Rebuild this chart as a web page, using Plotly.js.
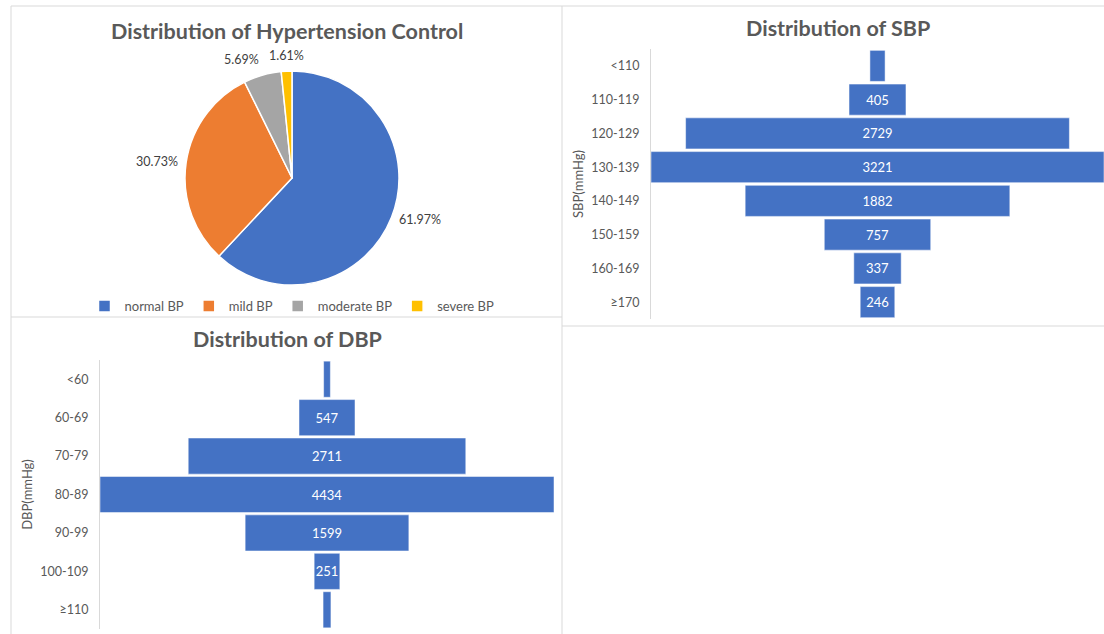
<!DOCTYPE html>
<html>
<head>
<meta charset="utf-8">
<script src="https://cdn.plot.ly/plotly-3.0.1.min.js"></script>
<style>html,body{margin:0;padding:0;background:#fff;}#chart{width:1104px;height:634px;}</style>
</head>
<body>
<div id="chart"></div>
<script>
// Hypertension control (percent)
const controlLabels = ["normal BP", "mild BP", "moderate BP", "severe BP"];
const controlPercent = [61.97, 30.73, 5.69, 1.61];
const controlColors = ["#4472C4", "#ED7D31", "#A5A5A5", "#FFC000"];

// SBP distribution
const sbpCategories = ["<110", "110-119", "120-129", "130-139", "140-149", "150-159", "160-169", "≥170"];
const sbpCounts = [108, 405, 2729, 3221, 1882, 757, 337, 246];
const sbpShowLabel = [false, true, true, true, true, true, true, true];

// DBP distribution
const dbpCategories = ["<60", "60-69", "70-79", "80-89", "90-99", "100-109", "≥110"];
const dbpCounts = [66, 547, 2711, 4434, 1599, 251, 77];
const dbpShowLabel = [false, true, true, true, true, true, false];

const W = 1104, H = 634;
const px = x => x / W;
const py = y => 1 - y / H;
const FONT = "Lato, 'Open Sans', sans-serif";
const GREY = "#595959";
const BORDER = "#D9D9D9";
const BAR = "#4472C4";

// pie placement (pixels)
const PIE_CX = 292, PIE_CY = 178, PIE_R = 107;

const pie = {
  type: "pie",
  labels: controlLabels,
  values: controlPercent,
  sort: false,
  direction: "clockwise",
  rotation: 0,
  marker: {colors: controlColors, line: {color: "#ffffff", width: 1.5}},
  textinfo: "none",
  domain: {x: [px(PIE_CX - PIE_R), px(PIE_CX + PIE_R)], y: [py(PIE_CY + PIE_R), py(PIE_CY - PIE_R)]},
  hoverinfo: "label+value",
  showlegend: true
};

// outside data labels for the pie, placed along each slice's mid-angle
const total = controlPercent.reduce((a, b) => a + b, 0);
let cum = 0;
const pieLabelAnns = controlPercent.map(v => {
  const mid = (cum + v / 2) / total * 2 * Math.PI;
  cum += v;
  const dx = Math.sin(mid), dy = -Math.cos(mid);
  const d = PIE_R + 6;
  return {
    text: v.toFixed(2) + "%", xref: "paper", yref: "paper", showarrow: false,
    x: px(PIE_CX + dx * d), y: py(PIE_CY + dy * d),
    xanchor: dx > 0.2 ? "left" : (dx < -0.2 ? "right" : "center"),
    yanchor: dy < -0.9 ? "bottom" : "middle",
    font: {family: FONT, size: 12.5, color: "#404040"}
  };
});

const barCommon = {
  type: "funnel",
  orientation: "h",
  textinfo: "text",
  textposition: "inside",
  insidetextanchor: "middle",
  constraintext: "none",
  insidetextfont: {family: FONT, size: 13, color: "#ffffff"},
  marker: {color: BAR, line: {color: "#ffffff", width: 0.5}},
  connector: {visible: false},
  showlegend: false
};

const sbp = Object.assign({}, barCommon, {
  y: sbpCategories,
  x: sbpCounts,
  text: sbpCounts.map((v, i) => sbpShowLabel[i] ? String(v) : ""),
  width: 0.92,
  xaxis: "x", yaxis: "y"
});

const dbp = Object.assign({}, barCommon, {
  y: dbpCategories,
  x: dbpCounts,
  text: dbpCounts.map((v, i) => dbpShowLabel[i] ? String(v) : ""),
  width: 0.94,
  xaxis: "x2", yaxis: "y2"
});

const sbpMax = Math.max(...sbpCounts);
const dbpMax = Math.max(...dbpCounts);

function line(x0, y0, x1, y1) {
  return {type: "line", xref: "paper", yref: "paper",
    x0: px(x0), y0: py(y0), x1: px(x1), y1: py(y1),
    line: {color: BORDER, width: 1}, layer: "below"};
}

const catAxis = {
  type: "category", autorange: "reversed",
  showline: true, linecolor: BORDER, linewidth: 1, ticks: "", ticklen: 0,
  ticklabelstandoff: 8,
  tickfont: {family: FONT, size: 12.5, color: GREY}, showgrid: false, zeroline: false
};

const layout = {
  width: W, height: H,
  margin: {l: 0, r: 0, t: 0, b: 0},
  paper_bgcolor: "#ffffff",
  plot_bgcolor: "rgba(0,0,0,0)",
  font: {family: FONT, color: GREY, size: 12},
  xaxis: {domain: [px(651), 1], range: [-sbpMax / 2, sbpMax / 2], visible: false, fixedrange: true},
  yaxis: Object.assign({}, catAxis, {
    domain: [py(319), py(49)],
    title: {text: "SBP(mmHg)", font: {family: FONT, size: 13, color: GREY}, standoff: 4}
  }),
  xaxis2: {domain: [px(100), px(554)], range: [-dbpMax / 2, dbpMax / 2], visible: false, fixedrange: true, anchor: "y2"},
  yaxis2: Object.assign({}, catAxis, {
    domain: [py(629), py(360)], anchor: "x2",
    title: {text: "DBP(mmHg)", font: {family: FONT, size: 13, color: GREY}, standoff: 4}
  }),
  legend: {orientation: "h", x: px(292), xanchor: "center", y: py(306), yanchor: "middle",
    bgcolor: "rgba(0,0,0,0)",
    font: {family: FONT, size: 13, color: GREY}, itemwidth: 30, tracegroupgap: 0},
  annotations: [
    {text: "<b>Distribution of Hypertension Control</b>", xref: "paper", yref: "paper",
      x: px(287), y: py(31), xanchor: "center", yanchor: "middle", showarrow: false,
      font: {family: FONT, size: 21.5, color: GREY}},
    {text: "<b>Distribution of SBP</b>", xref: "paper", yref: "paper",
      x: px(838), y: py(28), xanchor: "center", yanchor: "middle", showarrow: false,
      font: {family: FONT, size: 21.5, color: GREY}},
    {text: "<b>Distribution of DBP</b>", xref: "paper", yref: "paper",
      x: px(287), y: py(339), xanchor: "center", yanchor: "middle", showarrow: false,
      font: {family: FONT, size: 21.5, color: GREY}}
  ].concat(pieLabelAnns),
  shapes: [
    line(11, 6, 1104, 6),
    line(11, 6, 11, 634),
    line(562, 6, 562, 634),
    line(11, 317, 562, 317),
    line(562, 326, 1104, 326)
  ]
};

Plotly.newPlot("chart", [pie, sbp, dbp], layout, {displayModeBar: false, staticPlot: true});
</script>
</body>
</html>
